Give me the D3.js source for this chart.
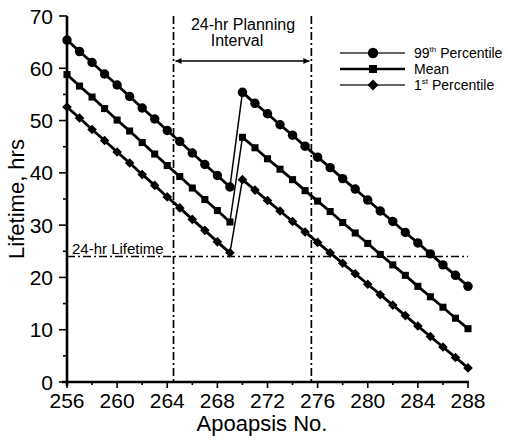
<!DOCTYPE html>
<html>
<head>
<meta charset="utf-8">
<script src="https://cdn.jsdelivr.net/npm/d3@7"></script>
<style>
  html, body { margin: 0; padding: 0; background: #fff; }
  svg { display: block; font-family: "Liberation Sans", Arial, sans-serif; }
</style>
</head>
<body>
<svg id="chart" width="508" height="440"></svg>
<script>
// Apoapsis numbers on the x axis
const apoapsisBefore = [256, 257, 258, 259, 260, 261, 262, 263, 264, 265, 266, 267, 268, 269];
const apoapsisAfter = [270, 271, 272, 273, 274, 275, 276, 277, 278, 279, 280, 281, 282, 283, 284, 285, 286, 287, 288];

// Lifetime (hrs) before and after the maneuver between apoapsis 269 and 270
const p99Before = [65.4, 63.2, 61.1, 58.9, 56.8, 54.6, 52.4, 50.3, 48.1, 46.0, 43.8, 41.6, 39.5, 37.3];
const p99After = [55.4, 53.3, 51.3, 49.2, 47.2, 45.1, 43.0, 41.0, 38.9, 36.9, 34.8, 32.7, 30.7, 28.6, 26.6, 24.5, 22.4, 20.4, 18.3];
const meanBefore = [58.8, 56.6, 54.5, 52.3, 50.1, 48.0, 45.8, 43.6, 41.4, 39.3, 37.1, 34.9, 32.8, 30.6];
const meanAfter = [46.8, 44.8, 42.7, 40.7, 38.7, 36.6, 34.6, 32.6, 30.5, 28.5, 26.5, 24.4, 22.4, 20.4, 18.3, 16.3, 14.3, 12.2, 10.2];
const p1Before = [52.6, 50.5, 48.3, 46.2, 44.0, 41.9, 39.7, 37.6, 35.4, 33.3, 31.1, 29.0, 26.8, 24.7];
const p1After = [38.7, 36.7, 34.7, 32.7, 30.7, 28.7, 26.7, 24.7, 22.7, 20.7, 18.7, 16.7, 14.7, 12.7, 10.7, 8.7, 6.7, 4.7, 2.7];

// Axis ticks
const xTicks = [256, 260, 264, 268, 272, 276, 280, 284, 288];
const yTicks = [0, 10, 20, 30, 40, 50, 60, 70];

// Reference lines
const planningStart = 264.5;
const planningEnd = 275.5;
const lifetimeLimit = 24;

const seriesNames = ["99th Percentile", "Mean", "1st Percentile"];

const svg = d3.select("#chart");
const plotLeft = 67, plotRight = 468, plotTop = 16, plotBottom = 382;

const x = d3.scaleLinear().domain([256, 288]).range([plotLeft, plotRight]);
const y = d3.scaleLinear().domain([0, 70]).range([plotBottom, plotTop]);

// Diamond markers are squares turned 45 degrees
const series = [
  { name: seriesNames[0], before: p99Before, after: p99After, symbol: d3.symbolCircle, size: 70, rot: 0 },
  { name: seriesNames[1], before: meanBefore, after: meanAfter, symbol: d3.symbolSquare, size: 50, rot: 0 },
  { name: seriesNames[2], before: p1Before, after: p1After, symbol: d3.symbolSquare, size: 46, rot: 45 }
];

const dashDot = "8,3,2,3";

// Planning interval boundaries
[planningStart, planningEnd].forEach(v => {
  svg.append("line")
    .attr("x1", x(v)).attr("x2", x(v))
    .attr("y1", plotTop).attr("y2", plotBottom)
    .attr("stroke", "#000").attr("stroke-width", 1.7)
    .attr("stroke-dasharray", dashDot);
});

// 24-hr lifetime line
svg.append("line")
  .attr("x1", plotLeft).attr("x2", plotRight)
  .attr("y1", y(lifetimeLimit)).attr("y2", y(lifetimeLimit))
  .attr("stroke", "#000").attr("stroke-width", 1.7)
  .attr("stroke-dasharray", dashDot);

svg.append("text")
  .attr("x", 72).attr("y", y(lifetimeLimit) - 3)
  .attr("font-size", 15).text("24-hr Lifetime");

// Planning interval arrow
const defs = svg.append("defs");
defs.append("marker").attr("id", "arrow")
  .attr("viewBox", "0 0 10 10").attr("refX", 10).attr("refY", 5)
  .attr("markerWidth", 11).attr("markerHeight", 6)
  .attr("markerUnits", "userSpaceOnUse")
  .attr("orient", "auto-start-reverse")
  .append("path").attr("d", "M0,0L10,5L0,10Z").attr("fill", "#000");

svg.append("line")
  .attr("x1", x(planningStart) + 2).attr("x2", x(planningEnd) - 2)
  .attr("y1", 61).attr("y2", 61)
  .attr("stroke", "#000").attr("stroke-width", 1.7)
  .attr("marker-start", "url(#arrow)").attr("marker-end", "url(#arrow)");

svg.append("text").attr("x", 243).attr("y", 30)
  .attr("text-anchor", "middle").attr("font-size", 16).text("24-hr Planning");
svg.append("text").attr("x", 237).attr("y", 46)
  .attr("text-anchor", "middle").attr("font-size", 16).text("Interval");

// Series lines and markers
const line = d3.line().x(d => x(d[0])).y(d => y(d[1]));

series.forEach(s => {
  const a = apoapsisBefore.map((v, i) => [v, s.before[i]]);
  const b = apoapsisAfter.map((v, i) => [v, s.after[i]]);
  svg.append("path").datum(a).attr("d", line)
    .attr("fill", "none").attr("stroke", "#000").attr("stroke-width", 2.8);
  svg.append("path").datum(b).attr("d", line)
    .attr("fill", "none").attr("stroke", "#000").attr("stroke-width", 2.8);
  // jump across the maneuver
  svg.append("path").datum([a[a.length - 1], b[0]]).attr("d", line)
    .attr("fill", "none").attr("stroke", "#000").attr("stroke-width", 1.5);
  const sym = d3.symbol().type(s.symbol).size(s.size);
  svg.append("g").selectAll("path").data(a.concat(b)).join("path")
    .attr("d", sym)
    .attr("transform", d => `translate(${x(d[0])},${y(d[1])}) rotate(${s.rot})`)
    .attr("fill", "#000");
});

// Axes
const yAxis = svg.append("g");
yAxis.append("line").attr("x1", plotLeft).attr("x2", plotLeft)
  .attr("y1", plotTop).attr("y2", plotBottom + 4)
  .attr("stroke", "#000").attr("stroke-width", 2.6);
const xAxis = svg.append("g");
xAxis.append("line").attr("x1", plotLeft - 5).attr("x2", plotRight + 1)
  .attr("y1", plotBottom).attr("y2", plotBottom)
  .attr("stroke", "#000").attr("stroke-width", 2.6);

// y ticks: major every 10, minor every 5
d3.range(0, 71, 5).forEach(v => {
  const major = v % 10 === 0;
  yAxis.append("line")
    .attr("x1", plotLeft).attr("x2", plotLeft - (major ? 8 : 4))
    .attr("y1", y(v)).attr("y2", y(v))
    .attr("stroke", "#000").attr("stroke-width", 1.6);
});
yAxis.selectAll("text").data(yTicks).join("text")
  .attr("x", plotLeft - 14).attr("y", d => y(d))
  .attr("dy", "0.36em").attr("text-anchor", "end")
  .attr("font-size", 21).text(d => d);

// x ticks: major every 4, minor every 2
d3.range(256, 289, 2).forEach(v => {
  const major = (v - 256) % 4 === 0;
  xAxis.append("line")
    .attr("x1", x(v)).attr("x2", x(v))
    .attr("y1", plotBottom).attr("y2", plotBottom + (major ? 6 : 3))
    .attr("stroke", "#000").attr("stroke-width", 1.6);
});
xAxis.selectAll("text").data(xTicks).join("text")
  .attr("x", d => x(d)).attr("y", 408)
  .attr("text-anchor", "middle")
  .attr("font-size", 21).text(d => d);

// Axis titles
svg.append("text").attr("x", 262).attr("y", 431)
  .attr("text-anchor", "middle").attr("font-size", 22).text("Apoapsis No.");
svg.append("text")
  .attr("transform", "translate(24,199) rotate(-90)")
  .attr("text-anchor", "middle").attr("font-size", 22).text("Lifetime, hrs");

// Legend
const legend = svg.append("g");
const legendRows = [53, 69, 85];
const legendLabels = [["99", "th", " Percentile"], ["Mean", "", ""], ["1", "st", " Percentile"]];
series.forEach((s, i) => {
  const ly = legendRows[i];
  legend.append("line")
    .attr("x1", 340).attr("x2", 405).attr("y1", ly).attr("y2", ly)
    .attr("stroke", i === 1 ? "#000" : "#333")
    .attr("stroke-width", i === 1 ? 2.6 : 1.4);
  legend.append("path")
    .attr("d", d3.symbol().type(s.symbol).size(s.size + 14))
    .attr("transform", `translate(373,${ly}) rotate(${s.rot})`).attr("fill", "#000");
  const t = legend.append("text").attr("x", 414).attr("y", ly + 5).attr("font-size", 14);
  t.append("tspan").text(legendLabels[i][0]);
  if (legendLabels[i][1]) {
    t.append("tspan").attr("font-size", 8).attr("dy", -6).text(legendLabels[i][1]);
    t.append("tspan").attr("dy", 6).text(legendLabels[i][2]);
  }
});
</script>
</body>
</html>
